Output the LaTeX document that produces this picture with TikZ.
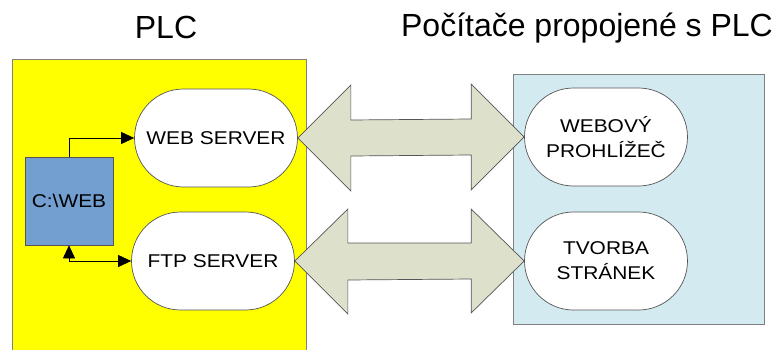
\documentclass[tikz,border=0pt]{standalone}
\usepackage{fontspec}
\setmainfont{Liberation Sans}
\newfontfamily\boxfont[FakeStretch=1.13]{Liberation Sans}
\usepackage{tikz}
\usetikzlibrary{positioning}
\usetikzlibrary{shapes.misc}
\usetikzlibrary{arrows.meta}
\usetikzlibrary{calc}

\definecolor{plcyellow}{HTML}{FFFF00}
\definecolor{pcblue}{HTML}{D3EAF0}
\definecolor{dirblue}{HTML}{729FCF}
\definecolor{arrowgreen}{HTML}{DDE0CB}
\definecolor{edgegray}{HTML}{555555}

\begin{document}
\begin{tikzpicture}[x=1pt, y=-1pt,
    title/.style={font=\fontsize{32}{35}\selectfont, anchor=base},
    server/.style={draw=edgegray, line width=0.7pt, fill=white, rounded rectangle,
        minimum width=163pt, minimum height=98pt, inner sep=0pt, align=center,
        font=\boxfont\fontsize{18.5}{25}\selectfont},
    folder/.style={draw=edgegray, line width=0.7pt, fill=dirblue,
        minimum width=88pt, minimum height=88pt, inner sep=0pt,
        font=\boxfont\fontsize{18.5}{25}\selectfont},
    link/.style={line width=0.7pt, -{Triangle[length=13pt,width=12pt]}},
    biglink/.style={line width=0.7pt, {Triangle[length=13pt,width=12pt]}-{Triangle[length=13pt,width=12pt]}},
    bigarrow/.style={draw=edgegray, line width=0.7pt, fill=arrowgreen, line join=miter}]
            \useasboundingbox (0,0) rectangle (775,350);

            % Plochy
            \fill[plcyellow] (12,59) rectangle (306,351);
            \draw[gray, line width=0.8pt] (12,351) |- (306,59) -- (306,351);
            \draw[gray, line width=0.8pt, fill=pcblue] (513,74) rectangle (764,324);

            % Nadpisy
            \node[title] (plc) at (166,39) {PLC};
            \node[title] (pc) at (587,37) {Počítače propojené s PLC};

            % Uzly
            \node[server] (web) at (216,138) {WEB SERVER};
            \node[server] (ftp) at (213,261) {FTP SERVER};
            \node[folder] (dir) at (69,201) {C:\textbackslash WEB};
            \node[server] (browser) at (606,137) {WEBOVÝ\\PROHLÍŽEČ};
            \node[server] (pages) at (606,261) {TVORBA\\STRÁNEK};

            % Spoje
            \draw[link] (dir.north) |- (web.west);
            \draw[biglink] (dir.south) |- (ftp.west);
            \draw[bigarrow] (web.east) -- ++(53,-53) -- ++(0,35)
                -- ($(browser.west)+(-53,-18)$) -- ++(0,-35) -- (browser.west)
                -- ++(-53,53) -- ++(0,-35) -- ($(web.east)+(53,18)$) -- ++(0,35) -- cycle;
            \draw[bigarrow] (ftp.east) -- ++(53,-52) -- ++(0,34)
                -- ($(pages.west)+(-53,-18)$) -- ++(0,-34) -- (pages.west)
                -- ++(-53,52) -- ++(0,-34) -- ($(ftp.east)+(53,19)$) -- ++(0,34) -- cycle;
          \end{tikzpicture}
\end{document}
